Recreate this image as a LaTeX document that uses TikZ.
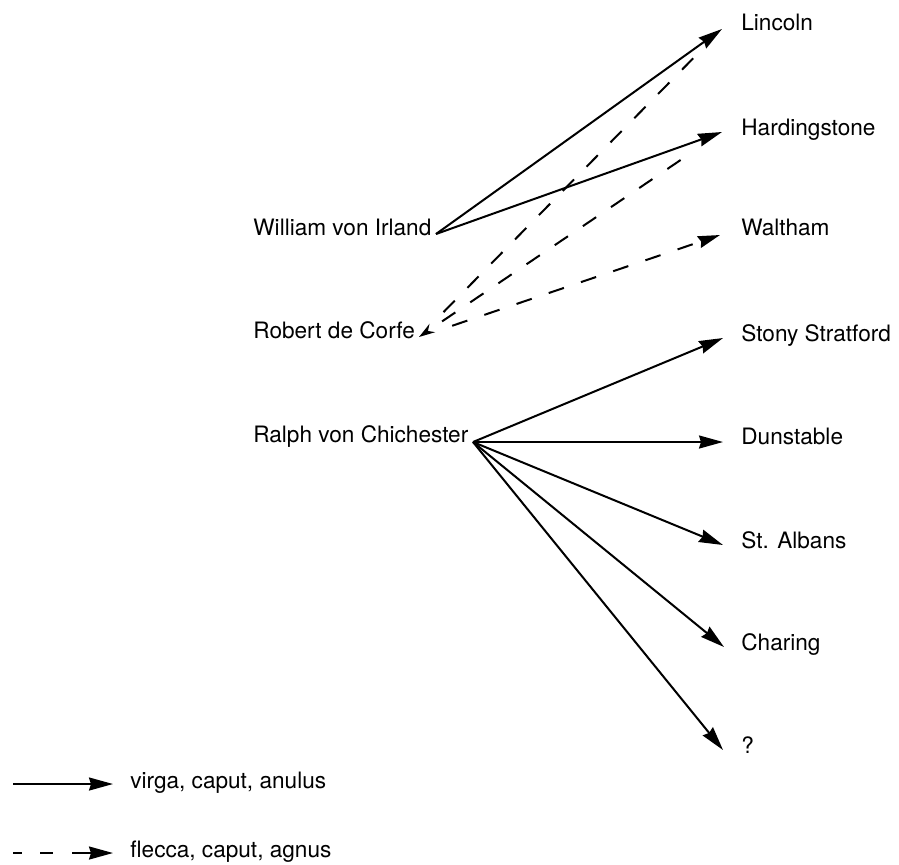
\documentclass[tikz,border=0pt]{standalone}
\usepackage{fontspec}
\setmainfont{TeX Gyre Heros}
\usetikzlibrary{arrows.meta}
\tikzset{
    lbl/.style={anchor=base west, inner sep=0pt,
                font=\fontsize{11.3pt}{13pt}\selectfont},
    virga/.style={-{Stealth[length=12pt,width=6.5pt,inset=1pt]}, line width=1pt},
    dsh/.style={line width=1pt, dash pattern=on 8pt off 9pt},
    flecca/.style={dsh, -{Stealth[length=11pt,width=6pt,inset=1pt]}},
}

\begin{document}
\begin{tikzpicture}[x=0.5pt,y=-0.5pt]
    \useasboundingbox (0,0) rectangle (899,864);

    % senders
    \node[lbl] (will)  at (253,235) {William von Irland};
    \node[lbl] (rob)   at (253,338) {Robert de Corfe};
    \node[lbl] (ralph) at (253,442) {Ralph von Chichester};
    \coordinate (willpt)  at (436,234);
    \coordinate (robpt)   at (419,337);
    \coordinate (ralphpt) at (473,442);

    % places
    \node[lbl] (linc)  at (741,30)  {Lincoln};
    \node[lbl] (hard)  at (741,135) {Hardingstone};
    \node[lbl] (walt)  at (741,235) {Waltham};
    \node[lbl] (stony) at (741,341) {Stony Stratford};
    \node[lbl] (dun)   at (741,444) {Dunstable};
    \node[lbl] (alb)   at (741,548) {St. Albans};
    \node[lbl] (char)  at (741,650) {Charing};
    \node[lbl] (unk)   at (741,753) {?};
    \coordinate (linc-t)  at ([shift={(-19,-1)}]linc.base west);
    \coordinate (hard-t)  at ([shift={(-19,-3)}]hard.base west);
    \coordinate (walt-t)  at ([shift={(-21,0)}]walt.base west);
    \coordinate (stony-t) at ([shift={(-18,-3)}]stony.base west);
    \coordinate (dun-t)   at ([shift={(-18,-2)}]dun.base west);
    \coordinate (alb-t)   at ([shift={(-18,-3)}]alb.base west);
    \coordinate (char-t)  at ([shift={(-17,-3)}]char.base west);
    \coordinate (unk-t)   at ([shift={(-18,-3)}]unk.base west);

    % virga, caput, anulus
    \draw[virga] (willpt) -- (linc-t);
    \draw[virga] (willpt) -- (hard-t);
    \draw[virga] (ralphpt) -- (stony-t);
    \draw[virga] (ralphpt) -- (dun-t);
    \draw[virga] (ralphpt) -- (alb-t);
    \draw[virga] (ralphpt) -- (char-t);
    \draw[virga] (ralphpt) -- (unk-t);

    % flecca, caput, agnus
    \draw[dsh, shorten <=17.5pt, shorten >=19pt] (robpt) -- (linc-t);
    \draw[dsh, dash phase=8pt, {Stealth[length=8pt,width=5pt]}-, shorten >=21pt] (robpt) -- (hard-t);
    \draw[flecca, shorten <=17.5pt] (robpt) -- (walt-t);

    % legend
    \node[lbl] (lvirga)  at (130,788) {virga, caput, anulus};
    \node[lbl] (lflecca) at (130,857) {flecca, caput, agnus};
    \coordinate (lv1) at (13,784);
    \coordinate (lf1) at (13,853);
    \draw[virga] (lv1) -- ([shift={(-17,-4)}]lvirga.base west);
    \draw[virga, dash pattern=on 4.5pt off 9pt on 6.5pt off 9.5pt on 20pt]
        (lf1) -- ([shift={(-17,-4)}]lflecca.base west);
\end{tikzpicture}
\end{document}
